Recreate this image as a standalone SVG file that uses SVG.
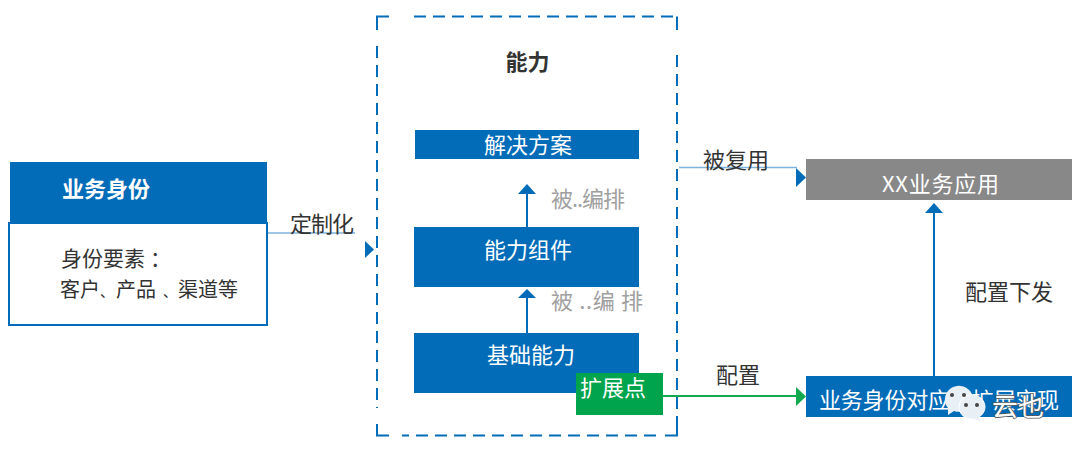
<svg xmlns="http://www.w3.org/2000/svg" width="1080" height="454" viewBox="0 0 1080 454">
<style>
text{font-family:"Noto Sans CJK SC","Liberation Sans",sans-serif;font-size:22px}
.w{fill:#fff}.k{fill:#333}.g{fill:#a0a0a0}.b{font-weight:700}
.blue{fill:#036cb8}
.dash{fill:none;stroke:#036cb8;stroke-width:2}
.line{fill:none;stroke:#036cb8;stroke-width:2}
.thin{fill:none;stroke:#7fb4dc;stroke-width:1.500}
</style>
<rect width="1080" height="454" fill="#fff"/>
<g id="frame">
<path class="dash" d="M377 30V16.500H389" />
<path class="dash" stroke-dasharray="12 7" d="M414 16.500H677"/>
<path class="dash" d="M677 16.500V30"/>
<path class="dash" stroke-dasharray="12 7" d="M677 55V422"/>
<path class="dash" d="M677 422V435.500H665"/>
<path class="dash" stroke-dasharray="12 7" d="M656 435.500H402"/>
<path class="dash" d="M389 435.500H377V424"/>
<path class="dash" stroke-dasharray="12 7" d="M377 46V408"/>
<text class="k b" x="527.500" y="70" text-anchor="middle">能力</text>
</g>
<g id="connectors">
<path class="thin" d="M267 233H355"/>
<path class="blue" d="M365 241L374 249.500L365 258Z"/>
<path class="thin" d="M679 167.500H797"/>
<path class="blue" d="M796 168L806 177.500L796 187Z"/>
<path class="line" d="M527 227V194"/>
<path class="blue" d="M518 194L527 184L536 194Z"/>
<path class="line" d="M527 333V298"/>
<path class="blue" d="M518 298L527 289L536 298Z"/>
<path class="line" d="M934 376V212"/>
<path class="blue" d="M925 213L934 203L943 213Z"/>
<path fill="none" stroke="#14a84f" stroke-width="2" d="M663 396H797"/>
<path fill="#14a84f" d="M796 387L806 396.500L796 406Z"/>
</g>
<g id="identity">
<rect class="blue" x="10" y="162" width="257" height="61"/>
<rect x="9" y="223" width="258" height="102" fill="#fff" stroke="#036cb8" stroke-width="2"/>
<path class="line" d="M9 325H267"/>
<text class="w b" x="62" y="197">业务身份</text>
<text class="k" x="61" y="266" style="font-size:21px">身份要素<tspan x="150">：</tspan></text>
<text class="k" y="297" style="font-size:20px"><tspan x="60">客户</tspan><tspan x="100" style="font-size:14px">、</tspan><tspan x="116">产品</tspan><tspan x="163" style="font-size:14px">、</tspan><tspan x="178">渠道等</tspan></text>
</g>
<g id="solution">
<rect class="blue" x="415" y="130" width="224" height="29"/>
<text class="w" x="528" y="153" text-anchor="middle">解决方案</text>
</g>
<g id="component">
<rect class="blue" x="414" y="227" width="225" height="60"/>
<text class="w" x="528" y="258" text-anchor="middle">能力组件</text>
</g>
<g id="base">
<rect class="blue" x="414" y="333" width="225" height="60"/>
<text class="w" x="531" y="363" text-anchor="middle">基础能力</text>
</g>
<g id="extension">
<rect x="576" y="373" width="87" height="42" fill="#00a44c"/>
<text class="w" x="580" y="396">扩展点</text>
</g>
<g id="app">
<rect x="806" y="159" width="266" height="41" fill="#888"/>
<text class="w" x="882" y="192" textLength="117">XX业务应用</text>
</g>
<g id="impl">
<rect class="blue" x="806" y="376" width="266" height="41"/>
<text class="w" x="819" y="408" textLength="240">业务身份对应的扩展实现</text>
</g>
<g id="labels">
<text class="k" x="290" y="232" textLength="64">定制化</text>
<text class="k" x="703" y="168">被复用</text>
<text class="k" x="965" y="300">配置下发</text>
<text class="k" x="716" y="383">配置</text>
<text class="g" x="551" y="207" textLength="74">被..编排</text>
<text class="g" x="551" y="309" textLength="92">被 ..编 排</text>
</g>
<g id="watermark">
<path fill="#e8f0f6" d="M945 399a14 13 0 1 1 9 12l-6 4l0-7a14 13 0 0 1-3-9Z"/>
<path fill="#e8f0f6" stroke="#fff" d="M959 407a13 12 0 1 1 20 10l3 6l-8-4a13 12 0 0 1-15-12Z"/>
<circle cx="952" cy="395" r="2" fill="#444"/><circle cx="964" cy="395" r="2" fill="#444"/>
<circle cx="966" cy="405" r="2" fill="#444"/><circle cx="977" cy="405" r="2" fill="#444"/>
<text x="992" y="416" style="font-size:26px;paint-order:stroke" fill="#fff" stroke="#555" stroke-width="1.500">云也</text>
</g>
</svg>
